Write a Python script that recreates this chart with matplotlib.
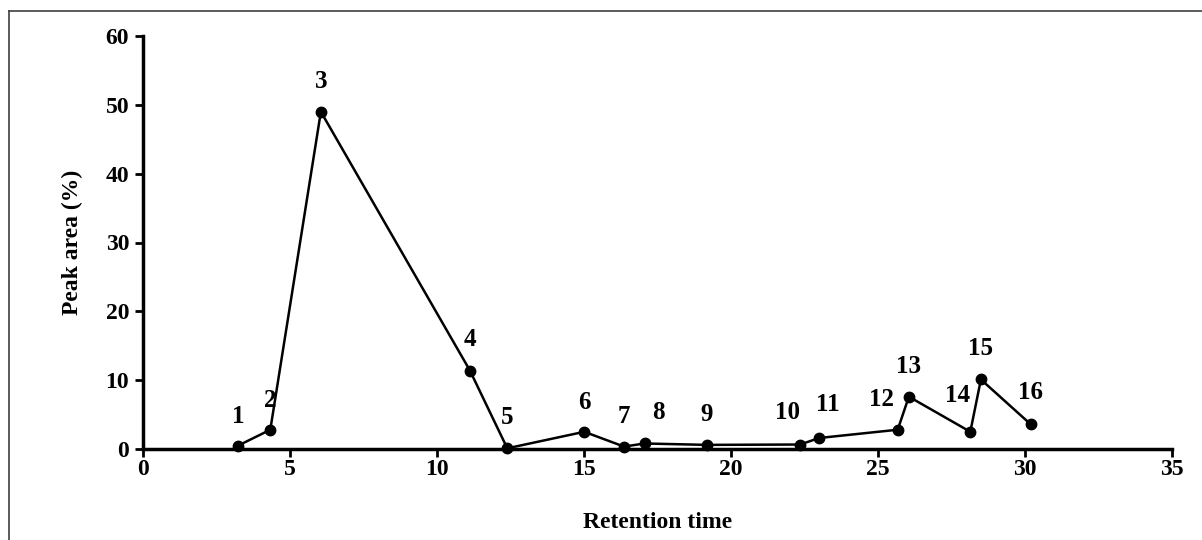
import matplotlib.pyplot as plt
from matplotlib.lines import Line2D

plt.rcParams["font.family"] = ["Liberation Serif", "DejaVu Serif"]
plt.rcParams["font.weight"] = "bold"

# peak data
peak_ids = [str(i) for i in range(1, 17)]
retention_time = [3.24, 4.33, 6.05, 11.12, 12.39, 15.01, 16.36, 17.06,
                  19.17, 22.35, 23.0, 25.67, 26.05, 28.14, 28.5, 30.19]
peak_area = [0.5, 2.8, 49.0, 11.4, 0.1, 2.5, 0.35, 0.8,
             0.6, 0.65, 1.6, 2.8, 7.6, 2.5, 10.1, 3.6]

# label offsets in points (dx, dy)
label_offsets = [(0, 21), (0, 21), (0, 22), (0, 22), (0, 22), (0, 21), (0, 22), (10, 22),
                 (0, 22), (-9, 23), (6, 24), (-12, 22), (0, 22), (-9, 26), (0, 22), (0, 23)]

fig = plt.figure(figsize=(12.02, 5.40), dpi=100)
ax = fig.add_axes([143 / 1202, 1 - 449 / 540, (1172 - 143) / 1202, (449 - 36) / 540])

ax.plot(retention_time, peak_area, color="black", linewidth=1.8,
        marker="o", markersize=7.5, clip_on=False, zorder=3)

for label, x, y, off in zip(peak_ids, retention_time, peak_area, label_offsets):
    ax.annotate(label, (x, y), xytext=off, textcoords="offset points",
                ha="center", va="center", fontsize=18, fontweight="bold")

ax.set_xlim(0, 35)
ax.set_ylim(0, 60)
ax.set_xticks(range(0, 36, 5))
ax.set_yticks(range(0, 61, 10))
ax.tick_params(direction="out", length=6, width=2, labelsize=17, pad=4)
ax.tick_params(axis="x", pad=1.5)
for lab in ax.get_xticklabels() + ax.get_yticklabels():
    lab.set_fontweight("bold")

for side in ("top", "right"):
    ax.spines[side].set_visible(False)
for side in ("left", "bottom"):
    ax.spines[side].set_linewidth(2.5)

ax.set_xlabel("Retention time", fontsize=17, fontweight="bold", labelpad=23)
ax.set_ylabel("Peak area (%)", fontsize=17, fontweight="bold", labelpad=16)

# thin frame along top and left edges of the picture
fig.add_artist(Line2D([9 / 1202, 1], [1 - 11 / 540, 1 - 11 / 540],
                      transform=fig.transFigure, color="#404040", linewidth=1.2))
fig.add_artist(Line2D([9 / 1202, 9 / 1202], [0, 1 - 11 / 540],
                      transform=fig.transFigure, color="#404040", linewidth=1.2))

fig.savefig("out.png", dpi=100)
